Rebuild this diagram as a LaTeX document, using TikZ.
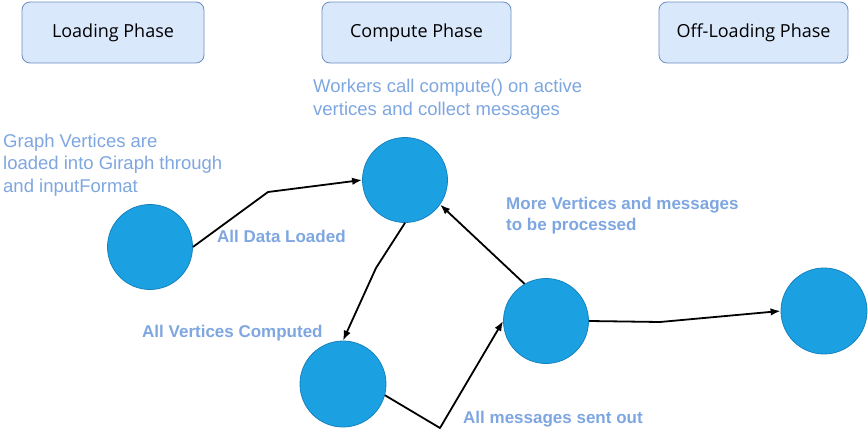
\documentclass[tikz,border=0pt]{standalone}
\usepackage{fontspec}
\setmainfont{Liberation Sans}
\newfontfamily\headfont{Open Sans}
\usetikzlibrary{arrows.meta}
\definecolor{phasefill}{HTML}{DAE8FC}
\definecolor{phaseline}{HTML}{6C8EBF}
\definecolor{vfill}{HTML}{1BA1E2}
\definecolor{vline}{HTML}{1582BF}
\definecolor{note}{HTML}{7EA6E0}
\tikzset{
  phasebox/.style={draw=phaseline, fill=phasefill, rounded corners=8pt, line width=0.8pt,
    minimum height=61pt, inner sep=0pt, text=black, font=\headfont\fontsize{18}{21}\selectfont},
  vertex/.style={circle, draw=vline, fill=vfill, line width=0.8pt, minimum size=#1, inner sep=0pt},
  notetext/.style={text=note, align=left, anchor=base west, inner sep=0pt,
    font=\fontsize{18.5}{22.5}\selectfont},
  edgelabel/.style={text=note, align=left, anchor=base west, inner sep=0pt,
    font=\bfseries\fontsize{17}{21}\selectfont},
  link/.style={draw=black, line width=1.8pt, line join=round, -{Latex[length=10pt,width=7.5pt]}}
}
\begin{document}
\begin{tikzpicture}[x=1pt,y=-1pt]
\useasboundingbox (0,0) rectangle (868,439);
% phase boxes
\node[phasebox, minimum width=182pt] (load) at (113,32.5) {Loading Phase};
\node[phasebox, minimum width=189pt] (comp) at (416.5,32.5) {Compute Phase};
\node[phasebox, minimum width=189pt] (off) at (753.5,32.5) {Off-Loading Phase};
% notes (anchor = baseline of last line)
\node[notetext] (n1) at (313,115) {Workers call compute() on active\\vertices and collect messages};
\node[notetext] (n2) at (3,192) {Graph Vertices are\\loaded into Giraph through\\and inputFormat};
% vertices
\node[vertex=85pt] (v1) at (150,247) {};
\node[vertex=85pt] (v2) at (405,180) {};
\node[vertex=86pt] (v3) at (343,384) {};
\node[vertex=85pt] (v4) at (546,321) {};
\node[vertex=86pt] (v5) at (824,311) {};
% bend points
\coordinate (b1) at (268,192);
\coordinate (b2) at (376,268);
\coordinate (b3) at (440,428);
\coordinate (b5) at (660,322);
% edges
\draw[link] (v1.east) -- (b1) -- (v2.west);
\draw[link] (v2.south) -- (b2) -- (v3.north);
\draw[link] (v3.-15) -- (b3) -- (v4.west);
\draw[link] (v4.120) -- (v2.-35);
\draw[link] (v4.east) -- (b5) -- (v5.west);
% edge labels
\node[edgelabel] (l1) at (217,242) {All Data Loaded};
\node[edgelabel] (l2) at (506,230) {More Vertices and messages\\to be processed};
\node[edgelabel] (l3) at (142,337) {All Vertices Computed};
\node[edgelabel] (l4) at (463,423) {All messages sent out};
\end{tikzpicture}
\end{document}
